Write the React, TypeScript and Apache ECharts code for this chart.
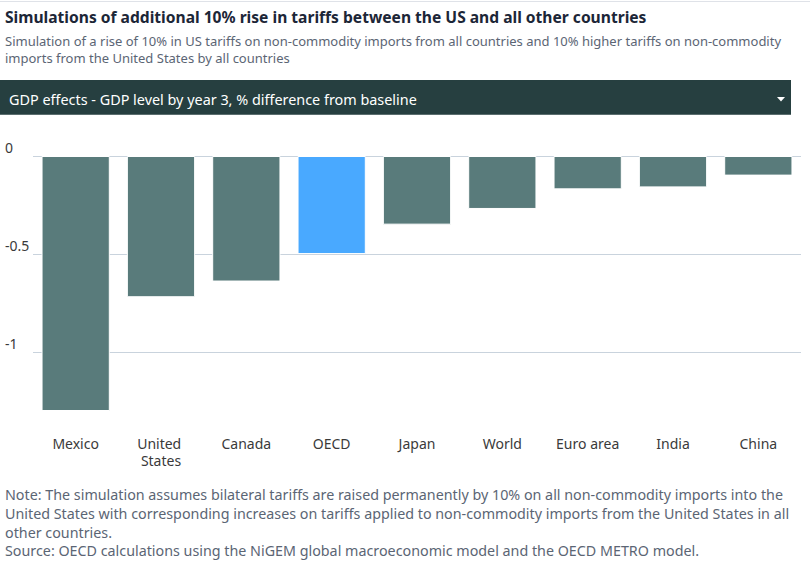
import React, { useEffect, useRef } from "react";
import * as echarts from "echarts";

const categories = ["Mexico", "United States", "Canada", "OECD", "Japan", "World", "Euro area", "India", "China"];
const values = [-1.3, -0.72, -0.64, -0.5, -0.35, -0.27, -0.17, -0.16, -0.1];
const highlight = "OECD";

const titleText = "Simulations of additional 10% rise in tariffs between the US and all other countries";
const subtitleText =
  "Simulation of a rise of 10% in US tariffs on non-commodity imports from all countries and 10% higher tariffs on non-commodity\nimports from the United States by all countries";
const dropdownText = "GDP effects - GDP level by year 3, % difference from baseline";
const noteText =
  "Note: The simulation assumes bilateral tariffs are raised permanently by 10% on all non-commodity imports into the\nUnited States with corresponding increases on tariffs applied to non-commodity imports from the United States in all\nother countries.\nSource: OECD calculations using the NiGEM global macroeconomic model and the OECD METRO model.";

const FONT = "'Noto Sans', sans-serif";

export default function App() {
  const ref = useRef<HTMLDivElement>(null);
  useEffect(() => {
    if (!ref.current) return;
    const chart = echarts.init(ref.current, undefined, { renderer: "svg" });
    chart.setOption({
      animation: false,
      backgroundColor: "#ffffff",
      textStyle: { fontFamily: FONT },
      grid: { left: 33, right: 9, top: 156, bottom: 563 - 411, containLabel: false },
      xAxis: {
        type: "category",
        data: categories,
        axisLine: { show: false, onZero: false },
        axisTick: { show: false },
        axisLabel: {
          color: "#3a3a3a",
          fontSize: 14,
          lineHeight: 17,
          margin: 24,
          width: 72,
          overflow: "break",
          interval: 0,
          fontFamily: FONT,
        },
      },
      yAxis: {
        type: "value",
        min: -1.3,
        max: 0,
        splitNumber: 3,
        axisLine: { show: false },
        axisTick: { show: false },
        axisLabel: {
          showMinLabel: false,
          color: "#3a3a3a",
          fontSize: 14,
          align: "left",
          verticalAlign: "bottom",
          margin: 28,
          padding: [0, 0, 2, 0],
          fontFamily: FONT,
        },
        splitLine: { show: true, showMinLine: false, lineStyle: { color: "#c9d3dd", width: 1 } },
      },
      series: [
        {
          type: "bar",
          barCategoryGap: "20%",
          data: values.map((v, i) => ({
            value: v,
            itemStyle: { color: categories[i] === highlight ? "#49a9ff" : "#597b7b" },
          })),
          itemStyle: { borderColor: "#ffffff", borderWidth: 1 },
        },
      ],
      graphic: [
        { type: "rect", shape: { x: 0, y: 1, width: 810, height: 1 }, style: { fill: "#dfe2e8" } },
        {
          type: "text",
          x: 5,
          y: 17,
          style: { text: titleText, font: `bold 15.6px ${FONT}`, fill: "#1c2637", verticalAlign: "middle" },
        },
        {
          type: "text",
          x: 5,
          y: 32,
          style: { text: subtitleText, font: `13px ${FONT}`, lineHeight: 17, fill: "#5b6574", verticalAlign: "top" },
        },
        { type: "rect", shape: { x: 0, y: 80, width: 791, height: 35 }, style: { fill: "#263f40" } },
        { type: "rect", shape: { x: 0, y: 114, width: 791, height: 1 }, style: { fill: "#5b6e6f" } },
        {
          type: "text",
          x: 9,
          y: 99,
          style: { text: dropdownText, font: `14.4px ${FONT}`, fill: "#ffffff", verticalAlign: "middle" },
        },
        {
          type: "polygon",
          shape: { points: [[777, 97], [785, 97], [781, 101.5]] },
          style: { fill: "#ffffff" },
        },
        {
          type: "text",
          x: 5,
          y: 485.5,
          style: { text: noteText, font: `14.3px ${FONT}`, lineHeight: 18.7, fill: "#5b6574", verticalAlign: "top" },
        },
      ],
    });
    return () => chart.dispose();
  }, []);
  return <div ref={ref} style={{ width: 810, height: 563, position: "absolute", left: 0, top: 0 }} />;
}
